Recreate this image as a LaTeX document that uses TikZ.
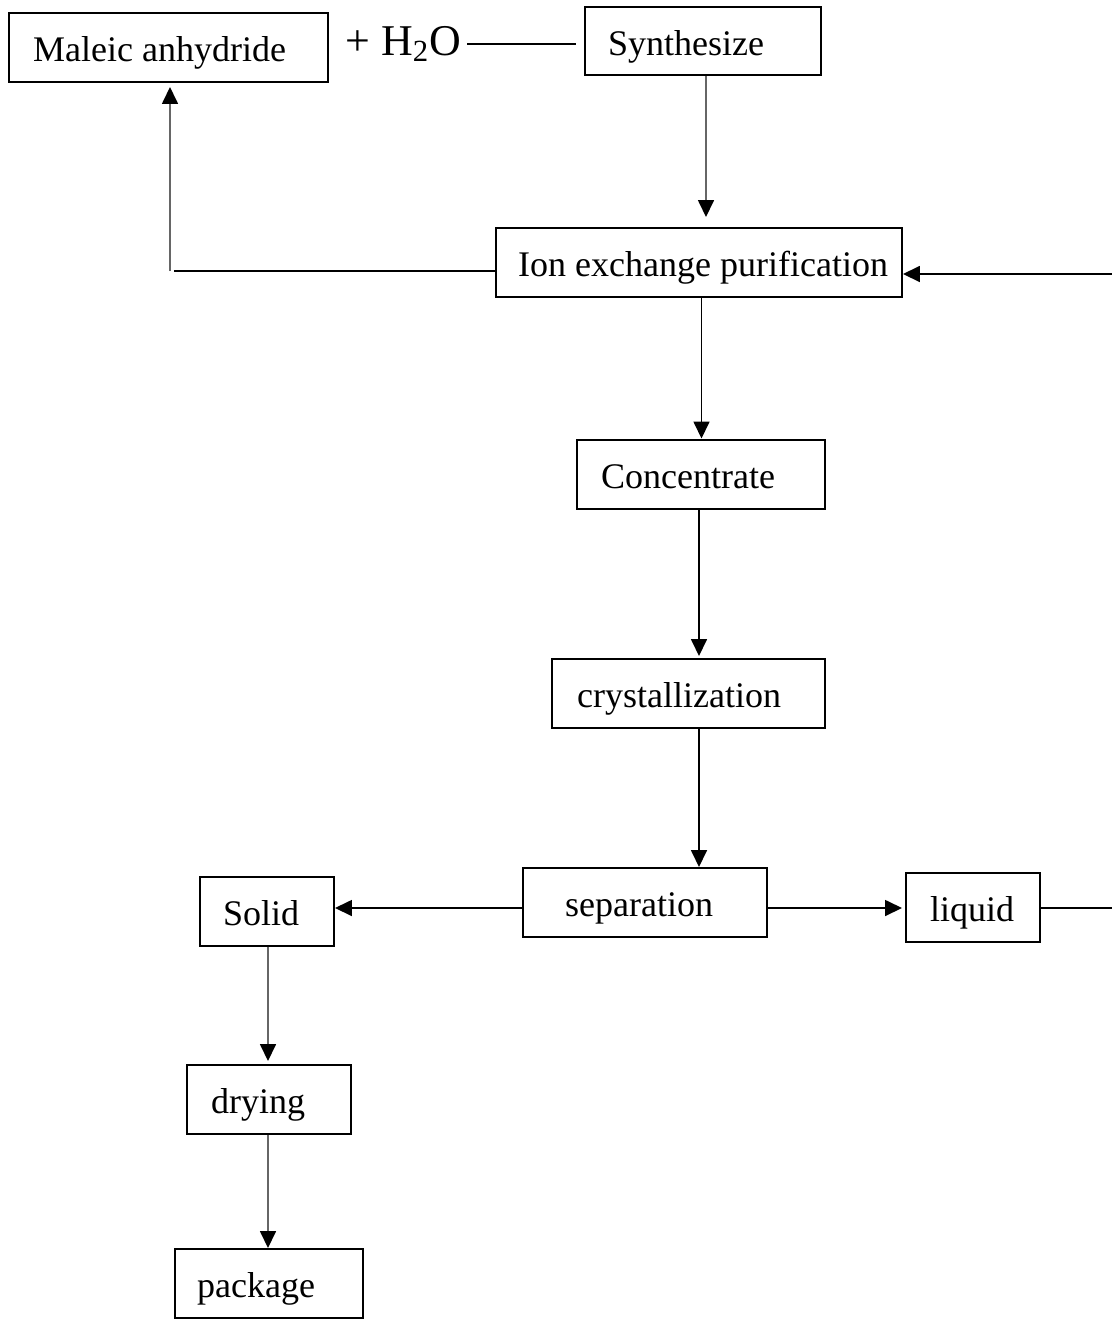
\documentclass[tikz,border=0pt]{standalone}
\usepackage{fontspec}
\setmainfont{Liberation Serif}
\usetikzlibrary{arrows.meta}
\begin{document}
\begin{tikzpicture}[x=0.02cm,y=-0.02cm,
  every node/.style={font=\fontsize{20.5}{24}\selectfont},
  box/.style={draw, line width=0.04cm, minimum height=1.38cm, inner ysep=0pt,
    text height=0.70cm, text depth=0.14cm, anchor=center},
  ln/.style={line width=0.034cm},
  arr/.style={line width=0.034cm, -{Triangle[length=0.34cm,width=0.32cm]}},
  gr/.style={draw=black!60, -{Triangle[length=0.34cm,width=0.32cm,color=black]}}]
\fill[white] (0,0) rectangle (1112,1319);
\useasboundingbox (0,0) rectangle (1112,1319);

\node[box, inner xsep=0.48cm] (mal) at (168.5,47.5) {\makebox[5.42cm][l]{Maleic anhydride}};
\node[font=\fontsize{25}{30}\selectfont, inner sep=0pt] (h2o) at (403,44) {+ H\textsubscript{2}O};
\node[box, inner xsep=0.46cm] (syn) at (703,41) {\makebox[3.8cm][l]{Synthesize}};
\node[box, inner xsep=0.44cm] (ion) at (699,262.5) {\makebox[7.24cm][l]{Ion exchange purification}};
\node[box, inner xsep=0.48cm] (con) at (701,474) {\makebox[4.0cm][l]{Concentrate}};
\node[box, inner xsep=0.5cm] (cry) at (688.5,693.5) {\makebox[4.46cm][l]{crystallization}};
\node[box, inner xsep=0.84cm] (sep) at (645,902.5) {\makebox[3.2cm][l]{separation}};
\node[box, inner xsep=0.46cm] (sol) at (267,911) {\makebox[1.76cm][l]{Solid}};
\node[box, inner xsep=0.48cm] (liq) at (973,907) {\makebox[1.72cm][l]{liquid}};
\node[box, inner xsep=0.48cm] (dry) at (269,1099.5) {\makebox[2.32cm][l]{drying}};
\node[box, inner xsep=0.44cm] (pac) at (269,1283.5) {\makebox[2.88cm][l]{package}};

\coordinate (xs) at (706,0);
\coordinate (xc) at (701.5,0);
\coordinate (xk) at (699,0);
\coordinate (xd) at (268,0);
\coordinate (y908) at (0,908);
\coordinate (bend) at (170,271);
\coordinate (bendh) at (174,271);
\coordinate (rE1) at (1112,274);
\coordinate (rE2) at (1112,908);

\draw[ln, shorten <=0.12cm, shorten >=0.16cm] (h2o.east) -- (syn.west |- h2o.east);
\draw[arr, gr, shorten >=0.2cm] (syn.south -| xs) -- (ion.north -| xs);
\draw[ln] (ion.west |- bend) -- (bendh);
\draw[arr, gr, shorten >=0.08cm] (bend) -- (mal.south -| bend);
\draw[arr] (rE1) -- (ion.east |- rE1);
\draw[arr] (ion.south -| xc) -- (con.north -| xc);
\draw[arr, shorten >=0.04cm] (con.south -| xk) -- (cry.north -| xk);
\draw[arr] (cry.south -| xk) -- (sep.north -| xk);
\draw[arr] (sep.west |- y908) -- (sol.east |- y908);
\draw[arr, shorten >=0.06cm] (sep.east |- y908) -- (liq.west |- y908);
\draw[ln] (liq.east |- y908) -- (rE2);
\draw[arr, gr, shorten >=0.06cm] (sol.south -| xd) -- (dry.north -| xd);
\draw[arr, gr] (dry.south -| xd) -- (pac.north -| xd);
\end{tikzpicture}
\end{document}
